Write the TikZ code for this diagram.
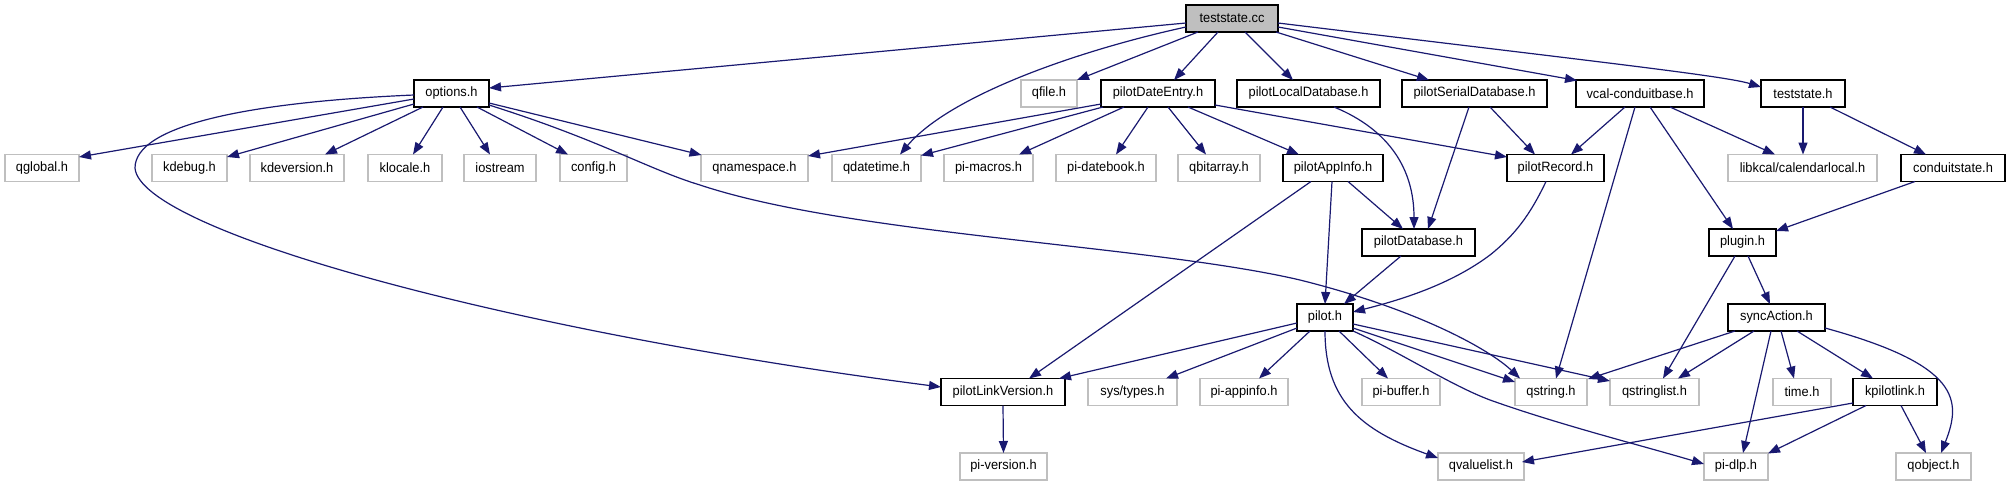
\documentclass[tikz,border=0pt]{standalone}
\usepackage{fontspec}
\setmainfont{Liberation Sans}[FakeStretch=0.95]
\usetikzlibrary{arrows.meta,calc}
\definecolor{edgec}{RGB}{25,25,112}
\definecolor{grayb}{RGB}{191,191,191}
\begin{document}
\begin{tikzpicture}[x=1pt,y=-1pt,
  base/.style={rectangle, minimum height=27pt, inner sep=0pt, line width=1.3pt, font=\fontsize{13.5}{16}\selectfont, anchor=center},
  doc/.style={base, draw=black},
  ext/.style={base, draw=grayb},
  root/.style={base, draw=black, fill=grayb},
  e/.style={draw=edgec, line width=1.2pt, -{Triangle[length=12pt,width=9pt]}}]
\useasboundingbox (0,0) rectangle (2011,485);
% rank 0
\node[root, minimum width=92pt] (tcc) at (1232,18.5) {teststate.cc};
% rank 1
\node[doc, minimum width=75pt] (opt) at (451.5,93.5) {options.h};
\node[ext, minimum width=56pt] (qfile) at (1049,93.5) {qfile.h};
\node[doc, minimum width=114pt] (pde) at (1158,93.5) {pilotDateEntry.h};
\node[doc, minimum width=143pt] (pld) at (1308.5,93.5) {pilotLocalDatabase.h};
\node[doc, minimum width=145pt] (psd) at (1474.5,93.5) {pilotSerialDatabase.h};
\node[doc, minimum width=128pt] (vcb) at (1640,93.5) {vcal-conduitbase.h};
\node[doc, minimum width=84pt] (tsh) at (1803,93.5) {teststate.h};
% rank 2
\node[ext, minimum width=74pt] (qglobal) at (42,168) {qglobal.h};
\node[ext, minimum width=75pt] (kdebug) at (189.5,168) {kdebug.h};
\node[ext, minimum width=94pt] (kdever) at (297,168) {kdeversion.h};
\node[ext, minimum width=74pt] (klocale) at (405,168) {klocale.h};
\node[ext, minimum width=72pt] (iostream) at (500,168) {iostream};
\node[ext, minimum width=67pt] (config) at (593.5,168) {config.h};
\node[ext, minimum width=107pt] (qns) at (754.5,168) {qnamespace.h};
\node[ext, minimum width=89pt] (qdt) at (876.5,168) {qdatetime.h};
\node[ext, minimum width=89pt] (pimac) at (988.5,168) {pi-macros.h};
\node[ext, minimum width=100pt] (pidb) at (1106,168) {pi-datebook.h};
\node[ext, minimum width=82pt] (qba) at (1219,168) {qbitarray.h};
\node[doc, minimum width=100pt] (pai) at (1333,168) {pilotAppInfo.h};
\node[doc, minimum width=97pt] (prec) at (1555.5,168) {pilotRecord.h};
\node[ext, minimum width=149pt] (lkc) at (1802.5,168) {libkcal/calendarlocal.h};
\node[doc, minimum width=104pt] (cst) at (1953,168) {conduitstate.h};
% rank 3
\node[doc, minimum width=113pt] (pdb) at (1418.5,242.5) {pilotDatabase.h};
\node[doc, minimum width=67pt] (plugin) at (1742.5,242.5) {plugin.h};
% rank 4
\node[doc, minimum width=56pt] (pilot) at (1325,317.5) {pilot.h};
\node[doc, minimum width=97pt] (sync) at (1776.5,317.5) {syncAction.h};
% rank 5
\node[doc, minimum width=124pt] (plv) at (1003,392) {pilotLinkVersion.h};
\node[ext, minimum width=89pt] (systypes) at (1132.5,392) {sys/types.h};
\node[ext, minimum width=88pt] (piai) at (1244,392) {pi-appinfo.h};
\node[ext, minimum width=78pt] (pibuf) at (1401,392) {pi-buffer.h};
\node[ext, minimum width=72pt] (qstr) at (1551,392) {qstring.h};
\node[ext, minimum width=89pt] (qsl) at (1654.5,392) {qstringlist.h};
\node[ext, minimum width=58pt] (timeh) at (1802,392) {time.h};
\node[doc, minimum width=84pt] (kpl) at (1895,392) {kpilotlink.h};
% rank 6
\node[ext, minimum width=87pt] (piver) at (1003.5,466.5) {pi-version.h};
\node[ext, minimum width=86pt] (qvl) at (1481,466.5) {qvaluelist.h};
\node[ext, minimum width=64pt] (pidlp) at (1736,466.5) {pi-dlp.h};
\node[ext, minimum width=75pt] (qobj) at (1933.5,466.5) {qobject.h};
% edges from teststate.cc
\draw[e] ($(tcc)+(-46,4.5)$) -- ($(opt)+(37.5,-5.5)$);
\draw[e] ($(tcc)+(-46,8.5)$) .. controls (1080,50) and (950,95) .. ($(qdt)+(23.5,-13.5)$);
\draw[e] ($(tcc)+(-34,13.5)$) -- ($(qfile)+(28,-13.5)$);
\draw[e] ($(tcc)+(-14,13.5)$) -- ($(pde)+(16,-13.5)$);
\draw[e] ($(tcc)+(13,13.5)$) -- ($(pld)+(-15.5,-13.5)$);
\draw[e] ($(tcc)+(44,13.5)$) -- ($(psd)+(-45.5,-13.5)$);
\draw[e] ($(tcc)+(46,8.5)$) -- ($(vcb)+(-63,-13)$);
\draw[e] ($(tcc)+(46,4.5)$) .. controls (1600,62) and (1725,76) .. ($(tsh)+(-42,-6.5)$);
% edges from options.h
\draw[e] ($(opt)+(-37.5,5.5)$) -- ($(qglobal)+(37,-11)$);
\draw[e] ($(opt)+(-37.5,1.5)$) .. controls (250,102) and (135,125) .. (135,168)
   .. controls (140,230) and (500,330) .. ($(plv)+(-62,-5)$);
\draw[e] ($(opt)+(-37.5,10.5)$) -- ($(kdebug)+(37.5,-11)$);
\draw[e] ($(opt)+(-28.5,13.5)$) -- ($(kdever)+(28,-13.5)$);
\draw[e] ($(opt)+(-8.5,13.5)$) -- ($(klocale)+(8,-13.5)$);
\draw[e] ($(opt)+(8.5,13.5)$) -- ($(iostream)+(-10,-13.5)$);
\draw[e] ($(opt)+(25.5,13.5)$) -- ($(config)+(-25.5,-13.5)$);
\draw[e] ($(opt)+(37.5,9.5)$) -- ($(qns)+(-53,-13)$);
\draw[e] ($(opt)+(37.5,11.5)$) .. controls (600,140) and (650,170) .. (700,185)
   .. controls (850,235) and (1150,245) .. (1300,280)
   .. controls (1420,310) and (1490,350) .. ($(qstr)+(-31,-13.5)$);
% edges from pilotDateEntry.h
\draw[e] ($(pde)+(-57,10.5)$) -- ($(qns)+(53.5,-12)$);
\draw[e] ($(pde)+(-55,13.5)$) -- ($(qdt)+(44.5,-12.5)$);
\draw[e] ($(pde)+(-34,13.5)$) -- ($(pimac)+(30.5,-13.5)$);
\draw[e] ($(pde)+(-10,13.5)$) -- ($(pidb)+(10,-13.5)$);
\draw[e] ($(pde)+(10,13.5)$) -- ($(qba)+(-13,-13.5)$);
\draw[e] ($(pde)+(30,13.5)$) -- ($(pai)+(-34,-13.5)$);
\draw[e] ($(pde)+(57,11.5)$) -- ($(prec)+(-48.5,-11)$);
% database edges
\draw[e] ($(pld)+(25.5,13.5)$) .. controls (1390,130) and (1414,170) .. ($(pdb)+(-4.5,-13.5)$);
\draw[e] ($(psd)+(-5.5,13.5)$) -- ($(pdb)+(9.5,-13.5)$);
\draw[e] ($(psd)+(15.5,13.5)$) -- ($(prec)+(-20.5,-13.5)$);
% vcal-conduitbase.h
\draw[e] ($(vcb)+(-15,13.5)$) -- ($(prec)+(15.5,-13.5)$);
\draw[e] ($(vcb)+(-5,13.5)$) -- ($(qstr)+(5,-13.5)$);
\draw[e] ($(vcb)+(10,13.5)$) -- ($(plugin)+(-9.5,-13.5)$);
\draw[e] ($(vcb)+(30,13.5)$) -- ($(lkc)+(-27.5,-13.5)$);
% teststate.h
\draw[e] ($(tsh)+(0,13.5)$) -- ($(lkc)+(0.5,-13.5)$);
\draw[e] ($(tsh)+(27,13.5)$) -- ($(cst)+(-27,-13.5)$);
\draw[e] ($(cst)+(-38,13.5)$) -- ($(plugin)+(33.5,-11.5)$);
% pilotRecord.h -> pilot.h
\draw[e] ($(prec)+(-9.5,13.5)$) .. controls (1530,215) and (1515,235) .. (1490,255)
   .. controls (1450,285) and (1400,300) .. ($(pilot)+(28,-5.5)$);
% pilotAppInfo.h
\draw[e] ($(pai)+(-22,13.5)$) -- ($(plv)+(26,-13.5)$);
\draw[e] ($(pai)+(-1,13.5)$) -- ($(pilot)+(0,-13.5)$);
\draw[e] ($(pai)+(15,13.5)$) -- ($(pdb)+(-15.5,-13.5)$);
\draw[e] ($(pdb)+(-17.5,13.5)$) -- ($(pilot)+(19,-13.5)$);
% plugin.h
\draw[e] ($(plugin)+(5.5,13.5)$) -- ($(sync)+(-6.5,-13.5)$);
\draw[e] ($(plugin)+(-7.5,13.5)$) -- ($(qsl)+(8.5,-13.5)$);
% pilot.h
\draw[e] ($(pilot)+(-28,5.5)$) -- ($(plv)+(56,-13.5)$);
\draw[e] ($(pilot)+(-28,10.5)$) -- ($(systypes)+(33.5,-13.5)$);
\draw[e] ($(pilot)+(-15,13.5)$) -- ($(piai)+(15,-13.5)$);
\draw[e] ($(pilot)+(0,13.5)$) .. controls (1325,400) and (1360,430) .. ($(qvl)+(-43,-8.5)$);
\draw[e] ($(pilot)+(14,13.5)$) -- ($(pibuf)+(-13,-13.5)$);
\draw[e] ($(pilot)+(28,10.5)$) -- ($(qstr)+(-36,-10)$);
\draw[e] ($(pilot)+(28,6.5)$) -- ($(qsl)+(-44.5,-11)$);
\draw[e] ($(pilot)+(28,13.5)$) .. controls (1400,352) and (1450,385) .. (1490,400)
   .. controls (1560,425) and (1640,445) .. ($(pidlp)+(-32,-2.5)$);
% syncAction.h
\draw[e] ($(sync)+(-41.5,13.5)$) -- ($(qstr)+(37,-13)$);
\draw[e] ($(sync)+(-22.5,13.5)$) -- ($(qsl)+(23.5,-13.5)$);
\draw[e] ($(sync)+(-5.5,13.5)$) -- ($(pidlp)+(7,-13.5)$);
\draw[e] ($(sync)+(4.5,13.5)$) -- ($(timeh)+(-8,-13.5)$);
\draw[e] ($(sync)+(20.5,13.5)$) -- ($(kpl)+(-22,-13.5)$);
\draw[e] ($(sync)+(48.5,10.5)$) .. controls (1960,365) and (1962,400) .. ($(qobj)+(7.5,-13.5)$);
% kpilotlink.h
\draw[e] ($(kpl)+(-42,11)$) -- ($(qvl)+(41,-4.5)$);
\draw[e] ($(kpl)+(-29,13.5)$) -- ($(pidlp)+(32,-13)$);
\draw[e] ($(kpl)+(6,13.5)$) -- ($(qobj)+(-7.5,-13.5)$);
% pilotLinkVersion.h
\draw[e] ($(plv)+(0,13.5)$) -- ($(piver)+(0,-13.5)$);
\end{tikzpicture}
\end{document}
